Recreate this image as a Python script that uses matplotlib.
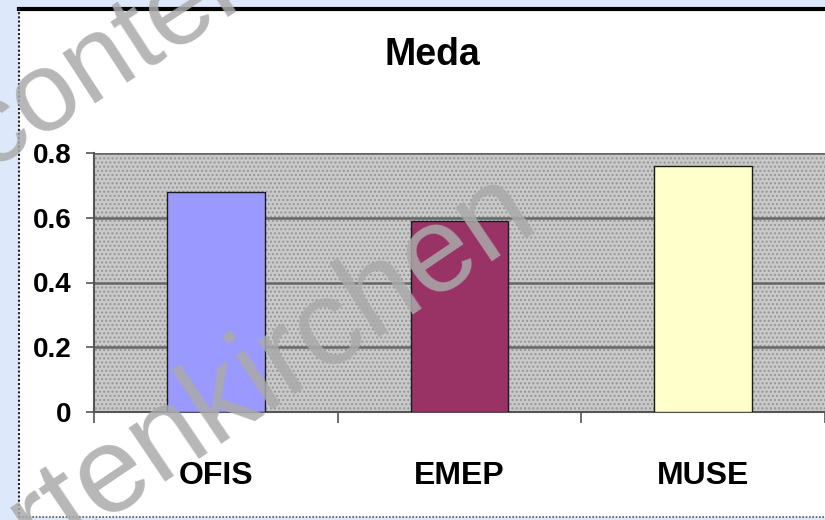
import numpy as np
import matplotlib
matplotlib.use('Agg')
import matplotlib.pyplot as plt
from matplotlib.patches import Rectangle
from matplotlib.lines import Line2D

categories = ['OFIS', 'EMEP', 'MUSE']
values = [0.68, 0.59, 0.76]
bar_colors = ['#9999FF', '#993366', '#FFFFCC']
yticks = [0, 0.2, 0.4, 0.6, 0.8]
ytick_labels = ['0', '0.2', '0.4', '0.6', '0.8']
title = 'Meda'
watermark_1 = 'content'
watermark_2 = 'Partenkirchen'

plt.rcParams['font.family'] = ['Liberation Sans', 'DejaVu Sans']
plt.rcParams['hatch.linewidth'] = 1.0

W, H = 825, 520
fig = plt.figure(figsize=(W / 100, H / 100), dpi=100)
fig.patch.set_facecolor('#dde9fb')

def fx(px):
    return px / W

def fy(py):
    return 1 - py / H

# white chart area
fig.patches.append(Rectangle((fx(19), fy(517)), 1, (517 - 8) / H, transform=fig.transFigure,
                             facecolor='white', edgecolor='none', zorder=-5))
# chart borders
fig.lines.append(Line2D([fx(19), 1], [fy(8.5), fy(8.5)], transform=fig.transFigure,
                        color='black', lw=3, zorder=1))
fig.lines.append(Line2D([fx(19), fx(19)], [fy(8), fy(517)], transform=fig.transFigure,
                        color='#222222', lw=1.5, ls=(0, (1, 1)), zorder=1))
fig.lines.append(Line2D([fx(19), 1], [fy(517), fy(517)], transform=fig.transFigure,
                        color='#555555', lw=1.2, ls=(0, (1, 1)), zorder=1))

ax = fig.add_axes([fx(94), fy(412), (825 - 94) / W, (412 - 153) / H])
ax.set_zorder(2)
ax.set_facecolor('#c9c9c9')
ax.add_patch(Rectangle((0, 0), 1, 1, transform=ax.transAxes, facecolor='none',
                       edgecolor='#959595', hatch='....', lw=0, zorder=0.1))

x = np.arange(len(categories))
ax.bar(x, values, width=0.4, color=bar_colors, edgecolor='#1a1a1a', linewidth=1, zorder=3)
ax.set_xlim(-0.5, 2.5)
ax.set_ylim(0, 0.8)

ax.set_yticks(yticks)
ax.set_yticklabels(ytick_labels, fontweight='bold')
ax.yaxis.grid(True, color='#666666', lw=1.8)
ax.set_axisbelow(True)

ax.set_xticks([-0.5, 0.5, 1.5, 2.5])
ax.set_xticklabels([])
ax.set_xticks(x, minor=True)
ax.set_xticklabels(categories, minor=True, fontweight='bold')
ax.tick_params(axis='x', which='minor', length=0, pad=35, labelsize=23)
ax.tick_params(axis='x', which='major', length=8, width=1.2, color='#555555', direction='out')
ax.tick_params(axis='y', length=6, width=1.2, color='#555555', pad=10, labelsize=20)

for s in ['top', 'right']:
    ax.spines[s].set_visible(False)
for s in ['left', 'bottom']:
    ax.spines[s].set_color('#555555')
    ax.spines[s].set_linewidth(1.5)

fig.text(fx(432), fy(55), title, ha='center', va='center', fontsize=27, fontweight='bold')

# watermark
fig.text(fx(-12), fy(170), watermark_1, rotation=33, rotation_mode='anchor', ha='left',
         va='baseline', fontsize=82, color='#aaaaaa', alpha=0.85, zorder=10)
fig.text(fx(540), fy(222), watermark_2, rotation=34, rotation_mode='anchor', ha='right',
         va='baseline', fontsize=88, color='#aaaaaa', alpha=0.85, zorder=10)

fig.savefig('out.png', dpi=100)
